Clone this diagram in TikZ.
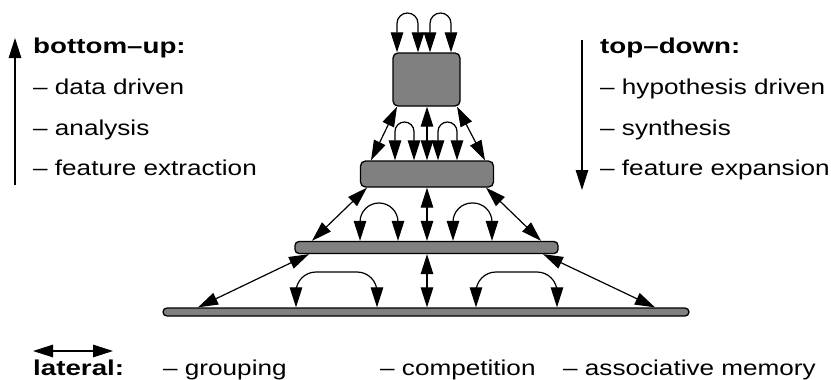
\documentclass[tikz,border=0pt]{standalone}
\usepackage{fontspec}
\setmainfont{Liberation Sans}[FakeStretch=1.215, BoldFeatures={FakeStretch=1.29}]
\usetikzlibrary{arrows.meta}
\definecolor{boxgray}{HTML}{808080}
\tikzset{
  tip/.tip={Triangle[length=20pt,width=12.5pt]},
  layer/.style={draw=black, fill=boxgray, line width=1.3pt, inner sep=0pt, rounded corners=#1},
  conn/.style={line width=1.2pt, tip-tip},
  oneway/.style={line width=1.2pt, -tip},
  txt/.style={anchor=base west, inner sep=0pt, font=\fontsize{21.5}{25}\selectfont},
  btxt/.style={txt, font=\fontsize{21.5}{25}\selectfont\bfseries}
}
\begin{document}
\begin{tikzpicture}[x=1pt, y=-1pt]
\useasboundingbox (0,0) rectangle (831,380);
% layers
\node[layer=5pt, minimum width=67pt, minimum height=53pt] (b1) at (426.5,79.5) {};
\node[layer=5pt, minimum width=133pt, minimum height=26pt] (b2) at (427,174) {};
\node[layer=4pt, minimum width=263pt, minimum height=12pt] (b3) at (426.5,247.5) {};
\node[layer=4pt, minimum width=526pt, minimum height=8pt] (b4) at (426,312) {};
% loops above b1
\draw[conn, rounded corners=10.5pt] (397,0 |- b1.north) -- (397,13) -- (418,13) -- (418,0 |- b1.north);
\draw[conn, rounded corners=10.5pt] (430,0 |- b1.north) -- (430,13) -- (451,13) -- (451,0 |- b1.north);
% b1 - b2
\draw[conn] (397,0 |- b1.south) -- (371,0 |- b2.north);
\draw[conn] (457,0 |- b1.south) -- (485,0 |- b2.north);
\draw[conn] (427,0 |- b1.south) -- (427,0 |- b2.north);
\draw[conn, rounded corners=9.5pt] (395,0 |- b2.north) -- (395,122) -- (414,122) -- (414,0 |- b2.north);
\draw[conn, rounded corners=9.5pt] (438,0 |- b2.north) -- (438,122) -- (457,122) -- (457,0 |- b2.north);
% b2 - b3
\draw[conn] (367,0 |- b2.south) -- (312,0 |- b3.north);
\draw[conn] (486,0 |- b2.south) -- (541,0 |- b3.north);
\draw[conn] (427,0 |- b2.south) -- (427,0 |- b3.north);
\draw[conn, rounded corners=19pt] (360,0 |- b3.north) -- (360,203) -- (398,203) -- (398,0 |- b3.north);
\draw[conn, rounded corners=19pt] (453,0 |- b3.north) -- (453,203) -- (492,203) -- (492,0 |- b3.north);
% b3 - b4
\draw[conn] (309,0 |- b3.south) -- (198,0 |- b4.north);
\draw[conn] (543,0 |- b3.south) -- (655,0 |- b4.north);
\draw[conn] (427,0 |- b3.south) -- (427,0 |- b4.north);
\draw[conn, rounded corners=20pt] (296,0 |- b4.north) -- (296,272) -- (377,272) -- (377,0 |- b4.north);
\draw[conn, rounded corners=20pt] (476,0 |- b4.north) -- (476,272) -- (557,272) -- (557,0 |- b4.north);
% left text block
\coordinate (upA) at (15,185);
\coordinate (upB) at (15,38);
\draw[oneway] (upA) -- (upB);
\node[btxt] (bu) at (33,53) {bottom--up:};
\node[txt] (l1) at (33,94) {-- data driven};
\node[txt] (l2) at (33,135) {-- analysis};
\node[txt] (l3) at (33,175) {-- feature extraction};
% right text block
\coordinate (dnA) at (582,40);
\coordinate (dnB) at (582,190);
\draw[oneway] (dnA) -- (dnB);
\node[btxt] (td) at (600,53) {top--down:};
\node[txt] (r1) at (600,94) {-- hypothesis driven};
\node[txt] (r2) at (600,135) {-- synthesis};
\node[txt] (r3) at (600,175) {-- feature expansion};
% lateral
\coordinate (latA) at (33,351);
\coordinate (latB) at (113,351);
\draw[conn] (latA) -- (latB);
\node[btxt] (lat) at (33,375) {lateral:};
\node[txt] (g1) at (163,375) {-- grouping};
\node[txt] (g2) at (380,375) {-- competition};
\node[txt] (g3) at (563,375) {-- associative memory};
\end{tikzpicture}
\end{document}
